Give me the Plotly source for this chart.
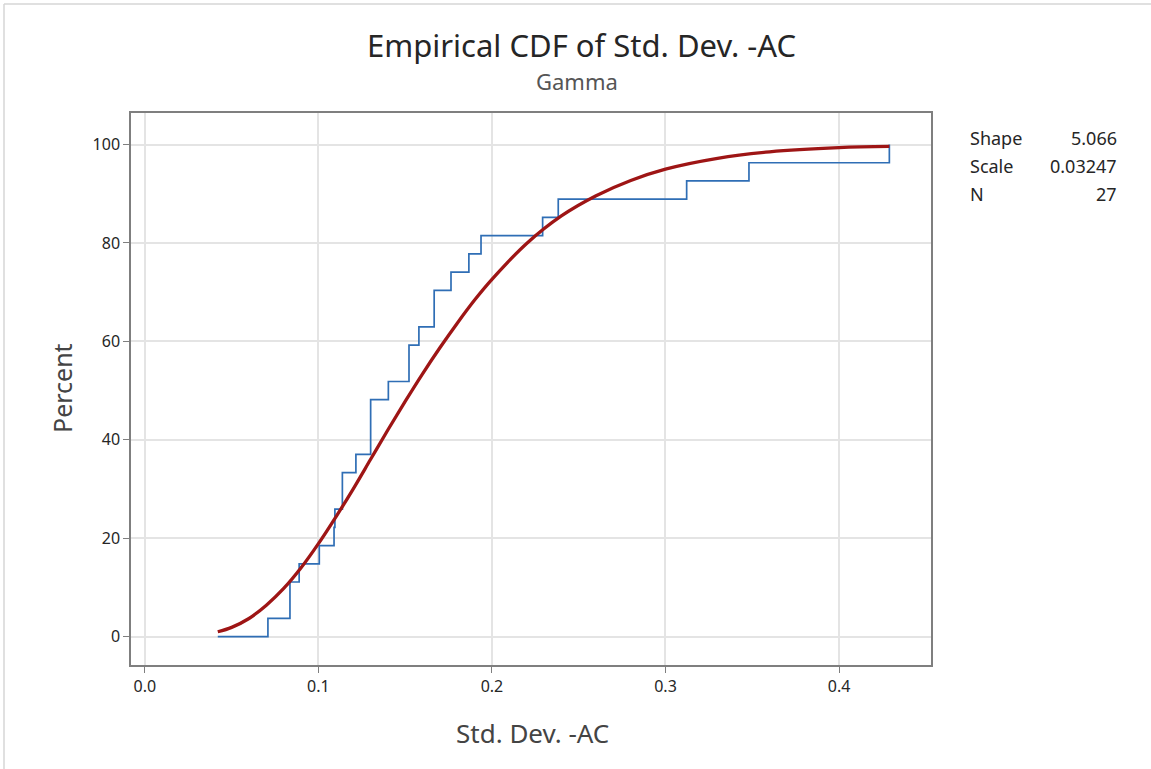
import plotly.graph_objects as go

# ---- data ----
sample_values = [0.0709, 0.0836, 0.0836, 0.0889, 0.1005, 0.1090, 0.1095, 0.1138, 0.1138,
                 0.1216, 0.1301, 0.1301, 0.1301, 0.1403, 0.1522, 0.1522, 0.1579, 0.1667,
                 0.1667, 0.1764, 0.1867, 0.1937, 0.2292, 0.2382, 0.3122, 0.3481, 0.4290]
x_start = 0.042

fit_x = [0.042, 0.05, 0.06, 0.07, 0.08, 0.09, 0.10, 0.11, 0.12, 0.13, 0.14, 0.15, 0.16,
         0.17, 0.18, 0.19, 0.20, 0.22, 0.24, 0.26, 0.28, 0.30, 0.33, 0.36, 0.40, 0.429]
fit_y = [1.0, 1.9, 3.7, 6.4, 9.8, 14.0, 18.9, 24.3, 30.0, 36.0, 42.0, 47.8, 53.4,
         58.7, 63.7, 68.4, 72.6, 79.9, 85.5, 89.6, 92.7, 95.0, 97.2, 98.5, 99.35, 99.6]

stat_labels = ["Shape", "Scale", "N"]
stat_values = ["5.066", "0.03247", "27"]

title_text = "Empirical CDF of Std. Dev. -AC"
subtitle_text = "Gamma"
x_title = "Std. Dev. -AC"
y_title = "Percent"

n = len(sample_values)
ecdf_x = [x_start] + sample_values
ecdf_y = [0.0] + [100.0 * (i + 1) / n for i in range(n)]

FONT = "Noto Sans, Open Sans, DejaVu Sans, sans-serif"
TXT = "#262626"

fig = go.Figure()
fig.add_trace(go.Scatter(x=ecdf_x, y=ecdf_y, mode="lines", line_shape="hv",
                         line=dict(color="#2F6EB5", width=1.7), hoverinfo="skip",
                         showlegend=False))
fig.add_trace(go.Scatter(x=fit_x, y=fit_y, mode="lines", line_shape="spline",
                         line=dict(color="#9E1515", width=3.3), hoverinfo="skip",
                         showlegend=False))

L, R, T, B = 131, 931, 113, 665
W, H = 1151, 769
pw, ph = R - L, B - T


def px_x(p):
    return (p - L) / pw


def px_y(p):
    return (B - p) / ph


annotations = [
    dict(text=title_text, x=px_x(581), y=px_y(45), xref="paper", yref="paper",
         showarrow=False, xanchor="center", yanchor="middle",
         font=dict(family=FONT, size=31, color=TXT)),
    dict(text=subtitle_text, x=px_x(577), y=px_y(81), xref="paper", yref="paper",
         showarrow=False, xanchor="center", yanchor="middle",
         font=dict(family=FONT, size=22, color="#555555")),
    dict(text=x_title, x=px_x(532), y=px_y(733), xref="paper", yref="paper",
         showarrow=False, xanchor="center", yanchor="middle",
         font=dict(family=FONT, size=26, color="#444444")),
    dict(text=y_title, x=px_x(62), y=px_y(388), xref="paper", yref="paper",
         showarrow=False, xanchor="center", yanchor="middle", textangle=-90,
         font=dict(family=FONT, size=25, color="#444444")),
]
row_px = [138, 166, 194]
for lab, val, rp in zip(stat_labels, stat_values, row_px):
    annotations.append(dict(text=lab, x=px_x(968), y=px_y(rp), xref="paper", yref="paper",
                            showarrow=False, xanchor="left", yanchor="middle",
                            font=dict(family=FONT, size=18, color=TXT)))
    annotations.append(dict(text=val, x=px_x(1119), y=px_y(rp), xref="paper", yref="paper",
                            showarrow=False, xanchor="right", yanchor="middle",
                            font=dict(family=FONT, size=18, color=TXT)))

shapes = [
    dict(type="line", xref="paper", yref="paper", x0=px_x(4), x1=px_x(W), y0=px_y(4), y1=px_y(4),
         line=dict(color="#d6d6d6", width=1.5)),
    dict(type="line", xref="paper", yref="paper", x0=px_x(4), x1=px_x(4), y0=px_y(4), y1=px_y(H),
         line=dict(color="#d6d6d6", width=1.5)),
]

fig.update_layout(
    width=W, height=H,
    margin=dict(l=L, r=W - R, t=T, b=H - B),
    paper_bgcolor="white", plot_bgcolor="white",
    annotations=annotations, shapes=shapes,
    font=dict(family=FONT, color=TXT),
)
fig.update_xaxes(range=[-0.008, 0.453], dtick=0.1, tick0=0, tickformat=".1f",
                 showgrid=True, gridcolor="#e4e4e4", gridwidth=1.5, zeroline=False,
                 showline=True, mirror=True, linecolor="#7f7f7f", linewidth=1.5,
                 ticks="outside", ticklen=6, tickcolor="#7f7f7f", tickwidth=1.2,
                 tickfont=dict(family=FONT, size=16, color=TXT))
fig.update_yaxes(range=[-5.75, 106.4], dtick=20, tick0=0,
                 showgrid=True, gridcolor="#e4e4e4", gridwidth=1.5, zeroline=False,
                 showline=True, mirror=True, linecolor="#7f7f7f", linewidth=1.5,
                 ticks="outside", ticklen=6, tickcolor="#7f7f7f", tickwidth=1.2,
                 tickfont=dict(family=FONT, size=16, color=TXT))

fig.write_html("out.html", config={"displayModeBar": False},
               post_script="document.body.style.margin='0px';")
